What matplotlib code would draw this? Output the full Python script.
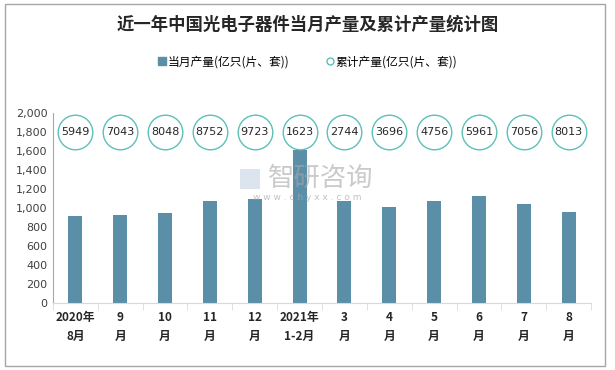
import matplotlib
matplotlib.use("Agg")
import matplotlib.pyplot as plt
from matplotlib.lines import Line2D
from matplotlib.patches import Rectangle

plt.rcParams['font.family'] = ['Noto Sans CJK SC', 'DejaVu Sans']

categories = ["2020年\n8月", "9\n月", "10\n月", "11\n月", "12\n月", "2021年\n1-2月",
              "3\n月", "4\n月", "5\n月", "6\n月", "7\n月", "8\n月"]
monthly = [915, 926, 947, 1074, 1095, 1615, 1074, 1011, 1074, 1127, 1042, 958]
cumulative = [5949, 7043, 8048, 8752, 9723, 1623, 2744, 3696, 4756, 5961, 7056, 8013]
bubble_level = 1800
yticks = list(range(0, 2001, 200))

bar_color = "#5b8fa8"
circle_edge = "#5cc0b8"

fig = plt.figure(figsize=(6.15, 3.70), dpi=100)
fig.patches.append(Rectangle((5/615, 4/370), 600/615, 362/370, transform=fig.transFigure,
                             fill=False, edgecolor="#a6a6a6", linewidth=1))

ax = fig.add_axes([53/615, 1 - 303/370, 538/615, 190/370])
x = list(range(len(categories)))
ax.bar(x, monthly, width=0.31, color=bar_color, zorder=2)
ax.scatter(x, [bubble_level] * len(x), s=620, facecolor="white", edgecolor=circle_edge,
           linewidth=1.0, zorder=3)
for xi, v in zip(x, cumulative):
    ax.text(xi, bubble_level, str(v), ha="center", va="center", fontsize=8,
            color="#262626", family="DejaVu Sans", zorder=4)

ax.set_xlim(-0.5, len(x) - 0.5)
ax.set_ylim(0, 2000)
ax.set_yticks(yticks)
ax.set_yticklabels([f"{t:,}" for t in yticks], fontsize=8, color="#404040", family="DejaVu Sans")
ax.set_xticks(x)
ax.set_xticklabels(categories, fontsize=8.5, fontweight="bold", color="#262626", linespacing=1.6)
ax.tick_params(axis="x", length=0, pad=6)
ax.tick_params(axis="y", length=0, pad=4)
ax.set_xticks([i + 0.5 for i in range(-1, len(x))], minor=True)
ax.tick_params(axis="x", which="minor", length=5, color="#d9d9d9", direction="out")
for s in ["top", "right"]:
    ax.spines[s].set_visible(False)
ax.spines["bottom"].set_color("#d9d9d9")
ax.spines["left"].set_color("#a6a6a6")

# watermark
fig.text(268/615, 1 - 178/370, "智研咨询", fontsize=19, color="#a8a8a8", alpha=0.6,
         ha="left", va="center")
fig.patches.append(Rectangle((240/615, 1 - 189/370), 20/615, 20/370, transform=fig.transFigure,
                             facecolor="#c5d3e3", edgecolor="none", alpha=0.6))
fig.text(307/615, 1 - 197/370, "w w w . c h y x x . c o m", fontsize=6.5, color="#a8a8a8", alpha=0.7,
         ha="center", va="center", family="DejaVu Sans")

fig.text(0.5, 1 - 25/370, "近一年中国光电子器件当月产量及累计产量统计图", fontsize=12.5,
         fontweight="bold", ha="center", va="center", color="#262626")

handles = [Line2D([], [], marker="s", linestyle="none", markersize=6, markerfacecolor=bar_color,
                  markeredgecolor=bar_color),
           Line2D([], [], marker="o", linestyle="none", markersize=5, markerfacecolor="white",
                  markeredgecolor=circle_edge)]
fig.legend(handles, ["当月产量(亿只(片、套))", "累计产量(亿只(片、套))"], loc="center",
           bbox_to_anchor=(0.5, 1 - 62/370), ncol=2, frameon=False, fontsize=8.5,
           handletextpad=0.1, columnspacing=3.0, handlelength=0.8)

fig.savefig("out.png", dpi=100)
